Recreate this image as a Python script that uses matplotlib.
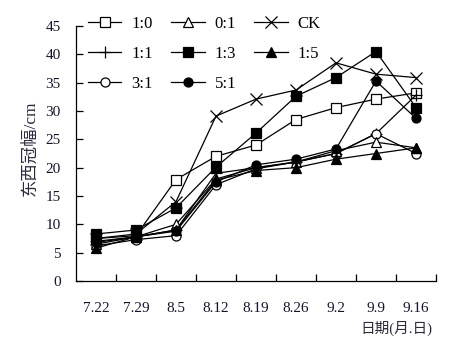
import numpy as np
import matplotlib
matplotlib.use('Agg')
import matplotlib.pyplot as plt

plt.rcParams['font.family'] = ['Liberation Serif', 'Noto Sans CJK SC']

# Sampling dates (month.day)
dates = ['7.22', '7.29', '8.5', '8.12', '8.19', '8.26', '9.2', '9.9', '9.16']

# East-west crown width (cm) for each treatment
w_1_0 = [7.5, 8.0, 17.9, 22.0, 24.0, 28.5, 30.6, 32.1, 33.2]
w_0_1 = [6.5, 7.8, 10.0, 18.0, 20.0, 21.0, 23.0, 24.5, 23.5]
w_ck = [7.5, 8.3, 14.0, 29.1, 32.1, 33.7, 38.5, 36.5, 35.9]
w_1_1 = [7.0, 7.8, 9.0, 19.0, 20.0, 21.0, 22.5, 26.0, 32.8]
w_1_3 = [8.3, 9.0, 12.9, 20.1, 26.1, 32.6, 35.9, 40.5, 30.6]
w_1_5 = [5.8, 7.8, 9.0, 17.8, 19.5, 20.0, 21.5, 22.5, 23.5]
w_3_1 = [6.2, 7.3, 8.0, 17.0, 19.8, 21.0, 22.5, 26.0, 22.5]
w_5_1 = [6.8, 7.8, 8.8, 17.5, 20.5, 21.5, 23.3, 35.3, 28.7]

# (label, data, marker, filled) in legend order: columns top to bottom
series = [
    ('1:0', w_1_0, 's', False),
    ('1:1', w_1_1, '+', True),
    ('3:1', w_3_1, 'o', False),
    ('0:1', w_0_1, '^', False),
    ('1:3', w_1_3, 's', True),
    ('5:1', w_5_1, 'o', True),
    ('CK', w_ck, 'x', True),
    ('1:5', w_1_5, '^', True),
]

fig = plt.figure(figsize=(4.63, 3.49), dpi=100)
ax = fig.add_axes([76 / 463, 1 - 281 / 349, 360 / 463, 255 / 349])

x = np.arange(len(dates))
for label, vals, m, filled in series:
    size = 9 if m in ('+', 'x') else 6.5
    ax.plot(x, vals, color='black', lw=0.9, marker=m, markersize=size,
            markerfacecolor='black' if filled else 'white',
            markeredgecolor='black', markeredgewidth=0.9, label=label)

ax.set_xlim(-0.5, len(dates) - 0.5)
ax.set_ylim(0, 45)
ax.set_yticks(np.arange(0, 46, 5))
ax.set_xticks(x)
ax.set_xticklabels(dates)
ax.set_xticks(np.arange(0.5, len(dates), 1), minor=True)

tick_color = '#15152a'
ax.tick_params(axis='x', which='major', length=0, pad=15, labelsize=11,
               labelcolor=tick_color)
ax.tick_params(axis='x', which='minor', direction='in', length=5, width=0.9)
ax.tick_params(axis='y', direction='in', length=5, width=0.9, pad=11,
               labelsize=11, labelcolor=tick_color)

for s in ['top', 'right']:
    ax.spines[s].set_visible(False)
for s in ['left', 'bottom']:
    ax.spines[s].set_linewidth(0.9)

ax.set_ylabel('东西冠幅/cm', fontsize=12.5, color='#2a2a3a')
ax.yaxis.set_label_coords(-0.105, 0.52)
fig.text(432 / 463, 1 - 328 / 349, '日期(月.日)', fontsize=10.5,
         color='#2a2a3a', ha='right', va='center')

ax.legend(loc='upper left', bbox_to_anchor=(88 / 463, 1 - 16 / 349),
          bbox_transform=fig.transFigure, ncol=3, frameon=False,
          fontsize=12, borderpad=0, handlelength=2.0, handletextpad=0.6,
          columnspacing=1.1, labelspacing=0.85, borderaxespad=0)

fig.savefig('out.png', dpi=100)
